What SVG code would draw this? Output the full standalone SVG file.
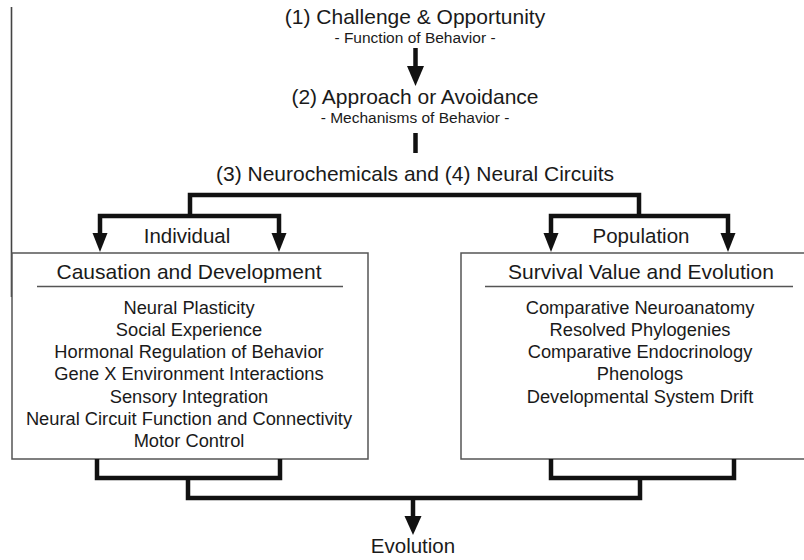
<svg xmlns="http://www.w3.org/2000/svg" width="804" height="560" viewBox="0 0 804 560">
<style>
text{font-family:"Liberation Sans",Arial,sans-serif;fill:#1a1a1a;text-anchor:middle}
.t{font-size:21px}
.s{font-size:15.5px}
.h{font-size:20.5px}
.i{font-size:18.3px}
.box{fill:#fff;stroke:#555;stroke-width:1.5}
.ul{stroke:#555;stroke-width:1.5}
.c{fill:none;stroke:#111;stroke-width:4.5;stroke-linejoin:miter;stroke-linecap:butt}
.hd{fill:#111}
</style>
<rect width="804" height="560" fill="#fff"/>
<line x1="11.5" y1="7" x2="11.5" y2="297" stroke="#444" stroke-width="1.6"/>
<g id="n1">
<text class="t" x="415" y="24">(1) Challenge &amp; Opportunity</text>
<text class="s" x="415" y="43">- Function of Behavior -</text>
</g>
<g id="n2">
<text class="t" x="415" y="104">(2) Approach or Avoidance</text>
<text class="s" x="415" y="123">- Mechanisms of Behavior -</text>
</g>
<g id="n3">
<text class="t" x="415" y="181">(3) Neurochemicals and (4) Neural Circuits</text>
</g>
<g id="individual"><text class="h" x="187" y="243">Individual</text></g>
<g id="population"><text class="h" x="641" y="243">Population</text></g>
<g id="left">
<rect class="box" x="12" y="253" width="356" height="206"/>
<text class="t" x="189" y="279">Causation and Development</text>
<line class="ul" x1="37" y1="286.5" x2="343" y2="286.5"/>
<text class="i" x="189" y="313.5">Neural Plasticity</text>
<text class="i" x="189" y="335.8">Social Experience</text>
<text class="i" x="189" y="358.1">Hormonal Regulation of Behavior</text>
<text class="i" x="189" y="380.4">Gene X Environment Interactions</text>
<text class="i" x="189" y="402.7">Sensory Integration</text>
<text class="i" x="189" y="425">Neural Circuit Function and Connectivity</text>
<text class="i" x="189" y="447.3">Motor Control</text>
</g>
<g id="right">
<rect class="box" x="461" y="253" width="360" height="206"/>
<text class="t" x="641" y="279">Survival Value and Evolution</text>
<line class="ul" x1="485" y1="286.5" x2="793" y2="286.5"/>
<text class="i" x="640" y="313.5">Comparative Neuroanatomy</text>
<text class="i" x="640" y="335.8">Resolved Phylogenies</text>
<text class="i" x="640" y="358.1">Comparative Endocrinology</text>
<text class="i" x="640" y="380.4">Phenologs</text>
<text class="i" x="640" y="402.7">Developmental System Drift</text>
</g>
<g id="evolution"><text class="h" x="413" y="553">Evolution</text></g>
<g id="connectors">
<path class="c" d="M415.5,48 V68"/>
<polygon class="hd" points="407,66 424,66 415.5,86"/>
<path class="c" d="M415.5,133 V153"/>
<path class="c" d="M190,216 V195 H639 V216"/>
<path class="c" d="M100,235 V216 H279 V235"/>
<polygon class="hd" points="92.5,233 107.5,233 100,252"/>
<polygon class="hd" points="271.5,233 286.5,233 279,252"/>
<path class="c" d="M551,235 V216 H728 V235"/>
<polygon class="hd" points="543.5,233 558.5,233 551,252"/>
<polygon class="hd" points="720.5,233 735.5,233 728,252"/>
<path class="c" d="M97,459 V478 H280 V459"/>
<path class="c" d="M551,459 V478 H734 V459"/>
<path class="c" d="M188,478 V498 H640 V478"/>
<path class="c" d="M413,498 V518"/>
<polygon class="hd" points="404.5,516 421.5,516 413,535"/>
</g>
</svg>
